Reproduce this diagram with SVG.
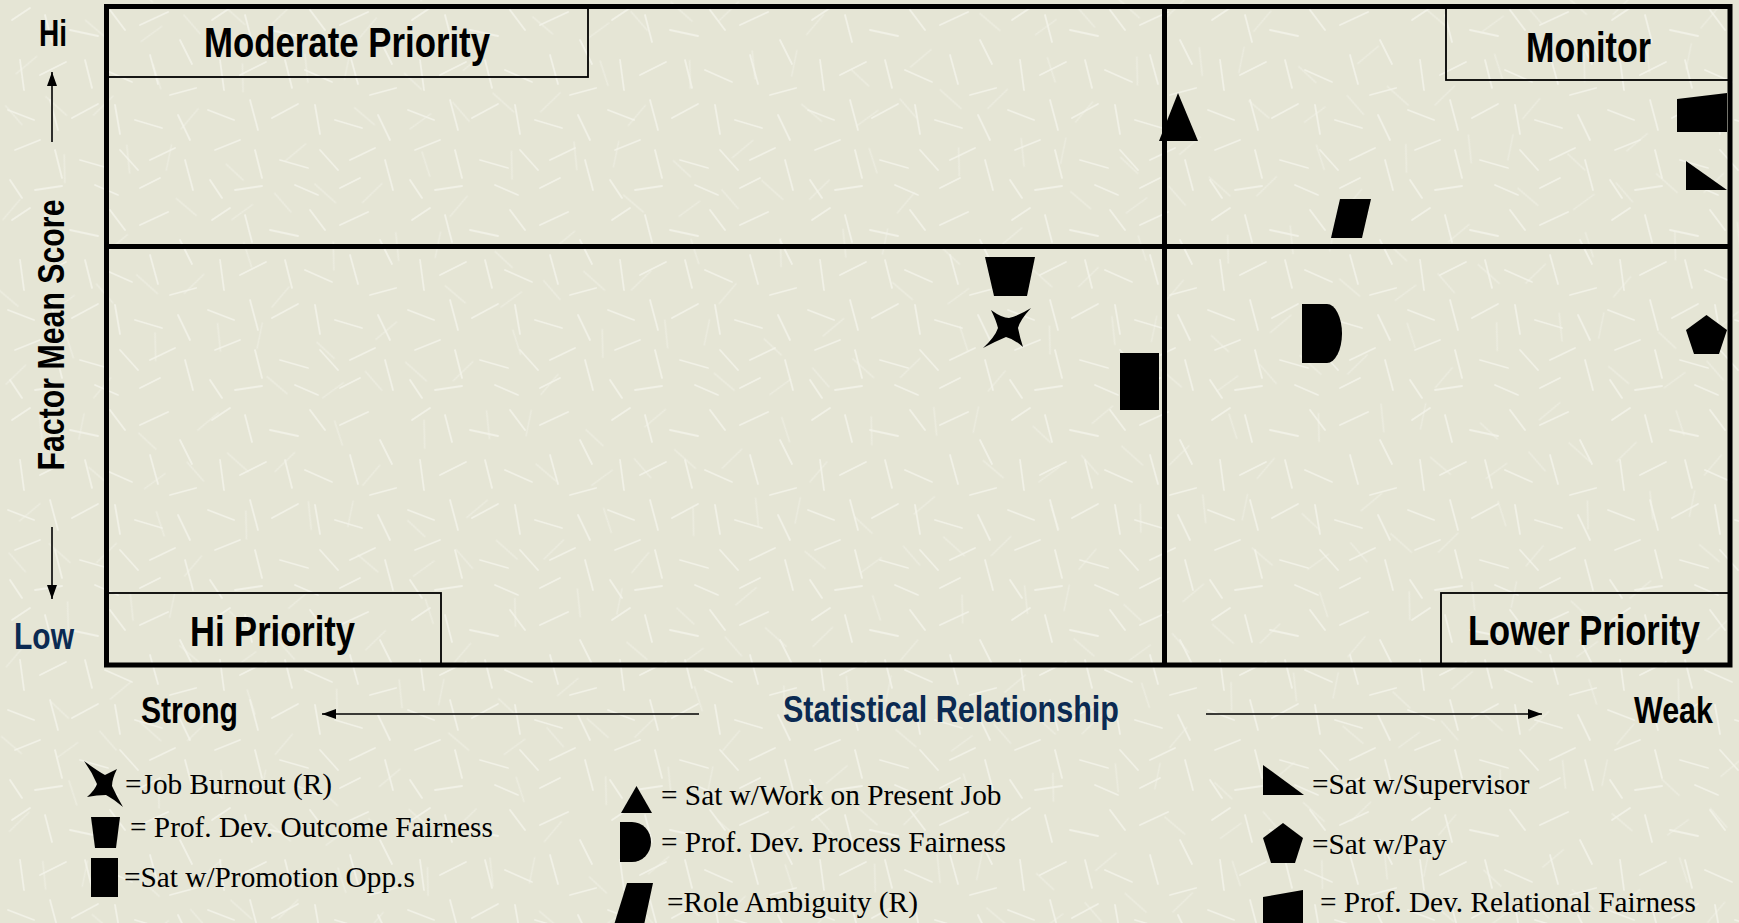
<svg xmlns="http://www.w3.org/2000/svg" width="1739" height="923" viewBox="0 0 1739 923">
<defs>
<pattern id="tex" x="0" y="0" width="200" height="200" patternUnits="userSpaceOnUse">
<g stroke="#f4f4eb" stroke-width="1.8" stroke-linecap="round" opacity="0.8">
<line x1="12" y1="20" x2="30" y2="8"/><line x1="45" y1="15" x2="52" y2="42"/><line x1="70" y1="30" x2="98" y2="36"/>
<line x1="110" y1="10" x2="125" y2="30"/><line x1="140" y1="25" x2="168" y2="12"/><line x1="180" y1="40" x2="192" y2="64"/>
<line x1="20" y1="60" x2="24" y2="90"/><line x1="40" y1="75" x2="66" y2="62"/><line x1="85" y1="60" x2="92" y2="88"/>
<line x1="105" y1="70" x2="132" y2="82"/><line x1="150" y1="55" x2="158" y2="84"/><line x1="170" y1="95" x2="196" y2="88"/>
<line x1="8" y1="110" x2="34" y2="120"/><line x1="50" y1="100" x2="58" y2="130"/><line x1="72" y1="118" x2="98" y2="104"/>
<line x1="115" y1="105" x2="120" y2="134"/><line x1="135" y1="120" x2="162" y2="128"/><line x1="178" y1="115" x2="190" y2="140"/>
<line x1="15" y1="150" x2="40" y2="140"/><line x1="55" y1="150" x2="62" y2="178"/><line x1="80" y1="160" x2="108" y2="168"/>
<line x1="120" y1="150" x2="138" y2="170"/><line x1="150" y1="160" x2="175" y2="148"/><line x1="185" y1="160" x2="193" y2="190"/>
<line x1="10" y1="180" x2="22" y2="198"/><line x1="35" y1="190" x2="62" y2="186"/><line x1="95" y1="185" x2="118" y2="195"/>
<line x1="140" y1="188" x2="160" y2="178"/>
</g>
</pattern>
<pattern id="tex2" x="37" y="53" width="200" height="200" patternUnits="userSpaceOnUse" patternTransform="rotate(63)">
<use href="#texlines"/>
</pattern>
<g id="texlines" stroke="#efefe4" stroke-width="1.4" stroke-linecap="round" opacity="0.7">
<line x1="12" y1="20" x2="34" y2="12"/><line x1="60" y1="15" x2="64" y2="40"/><line x1="90" y1="40" x2="115" y2="44"/>
<line x1="150" y1="20" x2="160" y2="44"/><line x1="20" y1="80" x2="44" y2="70"/><line x1="100" y1="90" x2="108" y2="116"/>
<line x1="150" y1="100" x2="176" y2="110"/><line x1="30" y1="140" x2="36" y2="166"/><line x1="70" y1="150" x2="96" y2="140"/>
<line x1="130" y1="160" x2="155" y2="172"/><line x1="170" y1="60" x2="190" y2="76"/><line x1="60" y1="190" x2="84" y2="184"/>
</g>
<marker id="ah" viewBox="0 0 14 10" refX="14" refY="5" markerWidth="14" markerHeight="10" markerUnits="userSpaceOnUse" orient="auto">
<path d="M0,0 L14,5 L0,10 Z" fill="#000"/>
</marker>
<style>
.frame{fill:none;stroke:#000;stroke-width:5}
.div{stroke:#000;stroke-width:5}
.lbox{fill:none;stroke:#000;stroke-width:1.8}
.qt{font-family:"Liberation Sans Narrow","Liberation Sans",Arial,sans-serif;font-weight:bold;font-size:42px;fill:#000}
.ax{font-family:"Liberation Sans Narrow","Liberation Sans",Arial,sans-serif;font-weight:bold;font-size:37px;fill:#000}
.navy{fill:#0b2a52}
.lg{font-family:"Liberation Serif","Times New Roman",serif;font-size:29.3px;fill:#000}
.mk{fill:#000}
.arr{stroke:#000;stroke-width:1.6;fill:none;marker-end:url(#ah)}
</style>
</defs>

<rect width="1739" height="923" fill="#e5e5d5"/>
<rect width="1739" height="923" fill="url(#tex2)"/>
<rect width="1739" height="923" fill="url(#tex)"/>

<g id="grid">
<rect class="frame" x="106.5" y="6.5" width="1623.5" height="658.5"/>
<line class="div" x1="1164.5" y1="6.5" x2="1164.5" y2="665"/>
<line class="div" x1="106.5" y1="246.5" x2="1730" y2="246.5"/>
</g>

<g id="q-moderate">
<rect class="lbox" x="106.5" y="6.5" width="481.5" height="70.5"/>
<text class="qt" x="204" y="57" textLength="286" lengthAdjust="spacingAndGlyphs">Moderate Priority</text>
</g>
<g id="q-monitor">
<rect class="lbox" x="1446" y="6.5" width="284" height="73.5"/>
<text class="qt" x="1526" y="62" textLength="125" lengthAdjust="spacingAndGlyphs">Monitor</text>
</g>
<g id="q-hi">
<rect class="lbox" x="106.5" y="593" width="334.5" height="72"/>
<text class="qt" x="190" y="646" textLength="165" lengthAdjust="spacingAndGlyphs">Hi Priority</text>
</g>
<g id="q-lower">
<rect class="lbox" x="1441" y="593" width="289" height="72"/>
<text class="qt" x="1468" y="645" textLength="232" lengthAdjust="spacingAndGlyphs">Lower Priority</text>
</g>

<g id="y-axis">
<text class="ax" x="39" y="46" font-size="33" textLength="28" lengthAdjust="spacingAndGlyphs">Hi</text>
<text class="ax" transform="translate(64,335) rotate(-90)" text-anchor="middle" textLength="271" lengthAdjust="spacingAndGlyphs">Factor Mean Score</text>
<text class="ax navy" x="14" y="649" font-size="33" textLength="60" lengthAdjust="spacingAndGlyphs">Low</text>
</g>
<g id="x-axis">
<text class="ax" x="141" y="723" textLength="97" lengthAdjust="spacingAndGlyphs">Strong</text>
<text class="ax navy" x="783" y="722" font-size="38" textLength="336" lengthAdjust="spacingAndGlyphs">Statistical Relationship</text>
<text class="ax" x="1634" y="723" textLength="79" lengthAdjust="spacingAndGlyphs">Weak</text>
</g>

<g id="connectors">
<line class="arr" x1="52" y1="142" x2="52" y2="72"/>
<line class="arr" x1="52" y1="527" x2="52" y2="599"/>
<line class="arr" x1="699" y1="714" x2="322" y2="714"/>
<line class="arr" x1="1206" y1="714" x2="1542" y2="714"/>
</g>

<g id="pt-work"><polygon class="mk" points="1178,93 1198,141 1159,141"/></g>
<g id="pt-relational"><polygon class="mk" points="1677,99 1727,93 1727,132 1677,132"/></g>
<g id="pt-supervisor"><polygon class="mk" points="1686,161 1686,190 1727,190"/></g>
<g id="pt-role"><polygon class="mk" points="1340,199 1371,199 1362,238 1331,238"/></g>
<g id="pt-outcome"><polygon class="mk" points="985,257 1035,257 1027,296 994,296"/></g>
<g id="pt-burnout"><path class="mk" d="M991,310 Q1002,318 1009,318 Q1020,315 1031,308 Q1020,320 1018,328 Q1020,338 1023,347 Q1014,339 1006,337 Q994,342 983,348 Q995,337 998,328 Q996,320 991,310 Z"/></g>
<g id="pt-promotion"><rect class="mk" x="1120" y="353" width="39" height="57"/></g>
<g id="pt-process"><path class="mk" d="M1302,304 H1327 A15,29.5 0 0 1 1327,363 H1302 Z"/></g>
<g id="pt-pay"><polygon class="mk" points="1706.5,315 1727,330 1719,354 1694,354 1686,330"/></g>

<g id="lg-burnout">
<path class="mk" d="M84,761 Q99,772 105,775 Q111,772 117,769 Q112,779 112,786 Q117,797 123,807 Q112,798 106,795 Q97,795 87,797 Q95,790 97,784 Q92,772 84,761 Z"/>
<text class="lg" x="125" y="794">=Job Burnout (R)</text>
</g>
<g id="lg-outcome">
<polygon class="mk" points="91,817 120,817 116,848 95,848"/>
<text class="lg" x="130" y="837">= Prof. Dev. Outcome Fairness</text>
</g>
<g id="lg-promotion">
<rect class="mk" x="91" y="858" width="27" height="39"/>
<text class="lg" x="124" y="887">=Sat w/Promotion Opp.s</text>
</g>
<g id="lg-work">
<polygon class="mk" points="636.5,786 652,813 621,813"/>
<text class="lg" x="661" y="805">= Sat w/Work on Present Job</text>
</g>
<g id="lg-process">
<path class="mk" d="M620,822 H632 A19,20 0 0 1 632,862 H620 Z"/>
<text class="lg" x="661" y="852">= Prof. Dev. Process Fairness</text>
</g>
<g id="lg-role">
<polygon class="mk" points="627,883 653,883 644,925 614,925"/>
<text class="lg" x="667" y="912">=Role Ambiguity (R)</text>
</g>
<g id="lg-supervisor">
<polygon class="mk" points="1263,765 1263,795 1304,795"/>
<text class="lg" x="1312" y="794">=Sat w/Supervisor</text>
</g>
<g id="lg-pay">
<polygon class="mk" points="1283,823 1303,838 1295,863 1271,863 1263,838"/>
<text class="lg" x="1312" y="854">=Sat w/Pay</text>
</g>
<g id="lg-relational">
<polygon class="mk" points="1263,897 1303,890 1303,925 1263,925"/>
<text class="lg" x="1320" y="912">= Prof. Dev. Relational Fairness</text>
</g>
</svg>
